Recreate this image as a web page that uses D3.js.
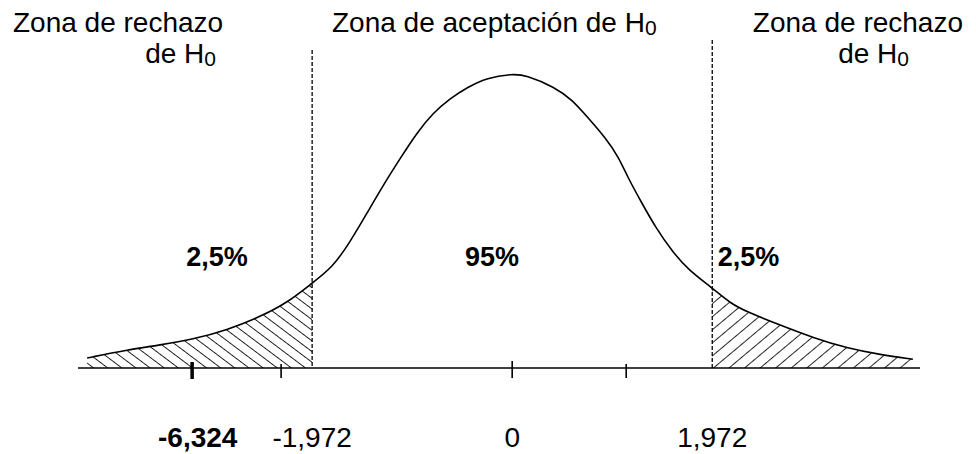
<!DOCTYPE html>
<html><head><meta charset="utf-8">
<script src="https://cdn.jsdelivr.net/npm/d3@7"></script>
<style>
html,body{margin:0;padding:0;background:#fff;}
svg text{font-family:"Liberation Sans", Arial, sans-serif;fill:#000;}
</style></head>
<body>
<svg id="chart" width="976" height="454"></svg>
<script>
// ---- data (z units / density units) ----
const curveZ = [-4.19,-3.80,-3.47,-3.15,-2.81,-2.49,-2.22,-1.972,-1.77,-1.60,-1.43,-1.27,-1.10,-0.94,-0.78,-0.61,-0.44,-0.25,0,0.13,0.42,0.59,0.75,0.92,1.05,1.14,1.28,1.41,1.58,1.74,1.972,2.15,2.32,2.64,2.97,3.30,3.63,3.95];
const curveY = [0.0136,0.0245,0.0313,0.0390,0.0517,0.0694,0.0884,0.1156,0.137,0.171,0.211,0.249,0.286,0.320,0.347,0.367,0.382,0.395,0.400,0.399,0.382,0.365,0.340,0.313,0.287,0.259,0.224,0.192,0.158,0.133,0.109,0.088,0.076,0.0585,0.041,0.027,0.018,0.012];
const critical = [-1.972, 1.972];
const axisExtent = [-4.28, 4.02];
const tickValues = [-2.278, 0, 1.124];
const statisticTick = -3.155;
const bottomLabelZ = [-3.1, -1.972, 0, 1.972];
const bottomLabels = ["-6,324", "-1,972", "0", "1,972"];
const pctLabelZ = [-2.91, -0.2, 2.33];
const pctLabels = ["2,5%", "95%", "2,5%"];

const W = 976, H = 454;
const svg = d3.select("#chart");
const x = d3.scaleLinear().domain(axisExtent).range([78, 920]);
const y = d3.scaleLinear().domain([0, 0.4]).range([368, 74]);

const pts = curveZ.map((z, i) => ({z, d: curveY[i]}));

// hatch patterns + clips
const defs = svg.append("defs");
function hatch(id, angle, gap) {
  const p = defs.append("pattern").attr("id", id)
    .attr("patternUnits", "userSpaceOnUse")
    .attr("width", gap).attr("height", gap)
    .attr("patternTransform", `rotate(${angle})`);
  p.append("line").attr("x1", 0).attr("y1", -2).attr("x2", 0).attr("y2", gap + 2)
    .attr("stroke", "#000").attr("stroke-width", 1.7);
}
hatch("hL", -53, 8.5);
hatch("hR", 50, 10);
defs.append("clipPath").attr("id", "cL").append("rect")
  .attr("x", 0).attr("y", 0).attr("width", x(critical[0])).attr("height", H);
defs.append("clipPath").attr("id", "cR").append("rect")
  .attr("x", x(critical[1])).attr("y", 0).attr("width", W - x(critical[1])).attr("height", H);

const area = d3.area().x(p => x(p.z)).y0(y(0)).y1(p => y(p.d)).curve(d3.curveBasis);
svg.append("path").datum(pts).attr("d", area).attr("fill", "url(#hL)").attr("clip-path", "url(#cL)");
svg.append("path").datum(pts).attr("d", area).attr("fill", "url(#hR)").attr("clip-path", "url(#cR)");

// curve
const line = d3.line().x(p => x(p.z)).y(p => y(p.d)).curve(d3.curveBasis);
svg.append("path").datum(pts).attr("d", line)
  .attr("fill", "none").attr("stroke", "#000").attr("stroke-width", 1.6);

// axis
svg.append("line").attr("x1", x(axisExtent[0])).attr("x2", x(axisExtent[1]))
  .attr("y1", y(0)).attr("y2", y(0)).attr("stroke", "#000").attr("stroke-width", 1.6);
svg.selectAll(".tk").data(tickValues).join("line")
  .attr("x1", d => x(d)).attr("x2", d => x(d))
  .attr("y1", d => y(0) - (d === 0 ? 7 : 4)).attr("y2", y(0) + 10)
  .attr("stroke", "#000").attr("stroke-width", 1.6);
svg.append("line").attr("x1", x(statisticTick)).attr("x2", x(statisticTick))
  .attr("y1", y(0) - 6).attr("y2", y(0) + 11)
  .attr("stroke", "#000").attr("stroke-width", 3.5);

// critical dashed lines
svg.selectAll(".crit").data(critical).join("line")
  .attr("x1", d => x(d)).attr("x2", d => x(d))
  .attr("y1", (d, i) => i === 0 ? 50 : 40).attr("y2", y(0))
  .attr("stroke", "#000").attr("stroke-width", 1.3).attr("stroke-dasharray", "4,2");

// bottom labels
svg.selectAll(".bl").data(bottomLabels).join("text")
  .attr("x", (d, i) => x(bottomLabelZ[i])).attr("y", 447)
  .attr("text-anchor", "middle").attr("font-size", 28)
  .attr("font-weight", (d, i) => i === 0 ? "bold" : "normal")
  .text(d => d);

// percent labels
svg.selectAll(".pl").data(pctLabels).join("text")
  .attr("x", (d, i) => x(pctLabelZ[i])).attr("y", 266)
  .attr("text-anchor", "middle").attr("font-size", 27).attr("font-weight", "bold")
  .text(d => d);

// zone labels
function zone(txt, xx, yy, anchor) {
  svg.append("text").attr("x", xx).attr("y", yy)
    .attr("text-anchor", anchor).attr("font-size", 28).text(txt);
}
function zoneH(prefix, xx, yy, anchor) {
  const t = svg.append("text").attr("x", xx).attr("y", yy)
    .attr("text-anchor", anchor).attr("font-size", 28);
  t.append("tspan").text(prefix + "H");
  t.append("tspan").attr("font-size", 21).attr("dy", 3).text("0");
}
zone("Zona de rechazo", 13, 32, "start");
zoneH("de ", 216, 63, "end");
zoneH("Zona de aceptación de ", 332, 32, "start");
zone("Zona de rechazo", 963, 32, "end");
zoneH("de ", 909, 63, "end");
</script>
</body></html>
